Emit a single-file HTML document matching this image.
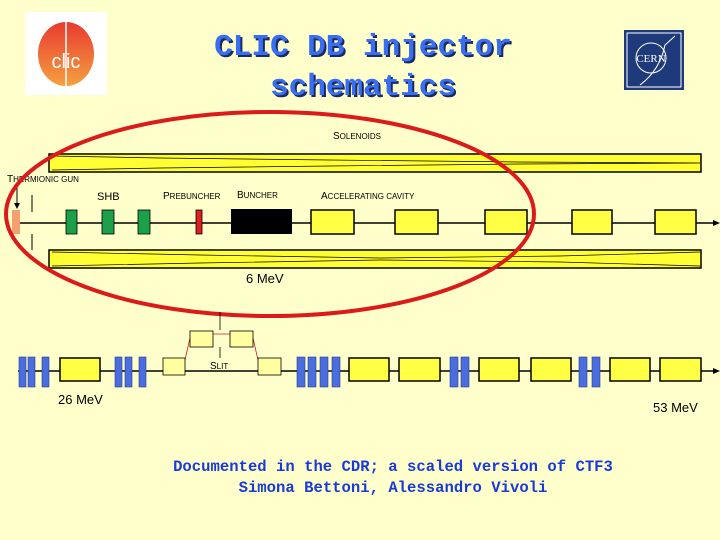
<!DOCTYPE html>
<html><head><meta charset="utf-8"><style>
html,body{margin:0;padding:0;background:#ffffcc;}
svg{display:block;}
</style></head><body>
<svg width="720" height="540" viewBox="0 0 720 540" xmlns="http://www.w3.org/2000/svg">
<rect width="720" height="540" fill="#ffffcc"/>
<!-- CLIC logo -->
<rect x="25" y="12" width="82" height="83" fill="#ffffff"/>
<defs><linearGradient id="g" x1="0" y1="0" x2="0" y2="1"><stop offset="0" stop-color="#e83a30"/><stop offset="1" stop-color="#f5a040"/></linearGradient></defs>
<ellipse cx="66" cy="54" rx="28" ry="32" fill="url(#g)"/>
<text x="66" y="68" font-family="Liberation Sans, sans-serif" font-size="20" fill="#fff" text-anchor="middle">clic</text>
<line x1="66" y1="22" x2="66" y2="86" stroke="#fff" stroke-width="1.5"/>
<!-- CERN logo -->
<rect x="624" y="30" width="60" height="60" fill="#1f3a7a"/>
<rect x="627" y="33" width="54" height="54" fill="none" stroke="#fff" stroke-width="1"/>
<circle cx="651" cy="58" r="15" fill="none" stroke="#fff" stroke-width="1"/>
<text x="651" y="62" font-family="Liberation Serif, serif" font-size="11" fill="#fff" text-anchor="middle">CERN</text>
<path d="M640 85 Q660 70 665 45 L675 36" fill="none" stroke="#fff" stroke-width="1"/>
<!-- Title -->
<g font-family="Liberation Mono, monospace" font-weight="bold" font-size="31" text-anchor="middle">
<text x="365" y="57" fill="#1a2a60">CLIC DB injector</text>
<text x="363" y="55" fill="#3a6ef0">CLIC DB injector</text>
<text x="365" y="97" fill="#1a2a60">schematics</text>
<text x="363" y="95" fill="#3a6ef0">schematics</text>
</g>
<!-- labels -->
<g font-family="Liberation Sans, sans-serif" fill="#000">
<text x="333" y="139" font-size="10">S<tspan font-size="8">OLENOIDS</tspan></text>
<text x="7" y="182" font-size="10">T<tspan font-size="8">HERMIONIC GUN</tspan></text>
<text x="97" y="200" font-size="11">SHB</text>
<text x="163" y="199" font-size="10">P<tspan font-size="8">REBUNCHER</tspan></text>
<text x="237" y="198" font-size="10">B<tspan font-size="8">UNCHER</tspan></text>
<text x="321" y="199" font-size="10">A<tspan font-size="8">CCELERATING CAVITY</tspan></text>
<text x="246" y="283" font-size="13">6 MeV</text>
<text x="210" y="369" font-size="10">S<tspan font-size="8">LIT</tspan></text>
<text x="58" y="404" font-size="13">26 MeV</text>
<text x="653" y="412" font-size="13">53 MeV</text>
</g>
<!-- solenoids -->
<g stroke="#000">
<rect x="49" y="154" width="652" height="18" fill="#ffff33" stroke-width="1.5"/>
<path d="M52 156 L160 158 L330 160 L520 162 L700 163 M52 170 L160 168 L330 166 L520 164 L700 163" fill="none" stroke-width="0.7"/>
<rect x="49" y="250" width="652" height="18" fill="#ffff33" stroke-width="1.5"/>
<path d="M52 252 L200 255 L380 258 L560 256 L700 252 M52 266 L200 263 L380 260 L560 262 L700 266" fill="none" stroke-width="0.7"/>
</g>
<!-- beam line 1 -->
<line x1="16" y1="223" x2="714" y2="223" stroke="#000" stroke-width="1.5"/>
<polygon points="720,223 713,220 713,226" fill="#000"/>
<line x1="17" y1="188" x2="17" y2="205" stroke="#000"/>
<polygon points="17,209 14,203 20,203" fill="#000"/>
<line x1="32" y1="195" x2="32" y2="212" stroke="#000"/>
<line x1="32" y1="234" x2="32" y2="250" stroke="#000"/>
<rect x="12" y="210" width="8" height="24" fill="#f5a070"/>
<g stroke="#000" stroke-width="0.8" fill="#1ea04a">
<rect x="66" y="210" width="11" height="24"/><rect x="102" y="210" width="12" height="24"/><rect x="138" y="210" width="12" height="24"/>
</g>
<rect x="196" y="210" width="6" height="24" fill="#e02020" stroke="#000" stroke-width="0.8"/>
<rect x="231" y="209" width="61" height="25" fill="#000"/>
<g fill="#ffff44" stroke="#000" stroke-width="1.5">
<rect x="311" y="210" width="43" height="24"/><rect x="395" y="210" width="43" height="24"/><rect x="485" y="210" width="42" height="24"/><rect x="572" y="210" width="40" height="24"/><rect x="655" y="210" width="41" height="24"/>
</g>
<!-- red ellipse -->
<ellipse cx="270" cy="214" rx="264" ry="102" fill="none" stroke="#dd1a1a" stroke-width="4"/>
<!-- beam line 2 -->
<line x1="18" y1="371" x2="714" y2="371" stroke="#000" stroke-width="1.5"/>
<polygon points="720,371 713,368 713,374" fill="#000"/>
<line x1="220" y1="312" x2="220" y2="330" stroke="#000" stroke-width="0.8"/>
<line x1="220" y1="347" x2="220" y2="358" stroke="#000" stroke-width="0.8"/>
<g stroke="#c02020" stroke-width="0.8"><line x1="185" y1="360" x2="190" y2="338"/><line x1="213" y1="334" x2="230" y2="334"/><line x1="253" y1="338" x2="258" y2="360"/></g>
<g fill="#ffffa0" stroke="#000" stroke-width="0.8">
<rect x="163" y="358" width="22" height="17"/><rect x="190" y="331" width="23" height="16"/><rect x="230" y="331" width="23" height="16"/><rect x="258" y="358" width="23" height="17"/>
</g>
<g fill="#4a6ee0" stroke="#2a3a90" stroke-width="0.6">
<rect x="19" y="357" width="7" height="30"/><rect x="28" y="357" width="7" height="30"/><rect x="42" y="357" width="7" height="30"/>
<rect x="115" y="357" width="7" height="30"/><rect x="125" y="357" width="7" height="30"/><rect x="139" y="357" width="7" height="30"/>
<rect x="297" y="357" width="8" height="30"/><rect x="308" y="357" width="8" height="30"/><rect x="320" y="357" width="8" height="30"/><rect x="332" y="357" width="8" height="30"/>
<rect x="450" y="357" width="8" height="30"/><rect x="461" y="357" width="8" height="30"/>
<rect x="579" y="357" width="8" height="30"/><rect x="592" y="357" width="8" height="30"/>
</g>
<g fill="#ffff44" stroke="#000" stroke-width="1.5">
<rect x="60" y="358" width="40" height="23"/>
<rect x="349" y="358" width="40" height="23"/><rect x="399" y="358" width="41" height="23"/>
<rect x="479" y="358" width="40" height="23"/><rect x="531" y="358" width="40" height="23"/>
<rect x="610" y="358" width="40" height="23"/><rect x="660" y="358" width="41" height="23"/>
</g>
<!-- bottom text -->
<g font-family="Liberation Mono, monospace" font-weight="bold" font-size="15.6" fill="#1a3ad8" text-anchor="middle">
<text x="393" y="471">Documented in the CDR; a scaled version of CTF3</text>
<text x="393" y="492">Simona Bettoni, Alessandro Vivoli</text>
</g>
</svg>
</body></html>
